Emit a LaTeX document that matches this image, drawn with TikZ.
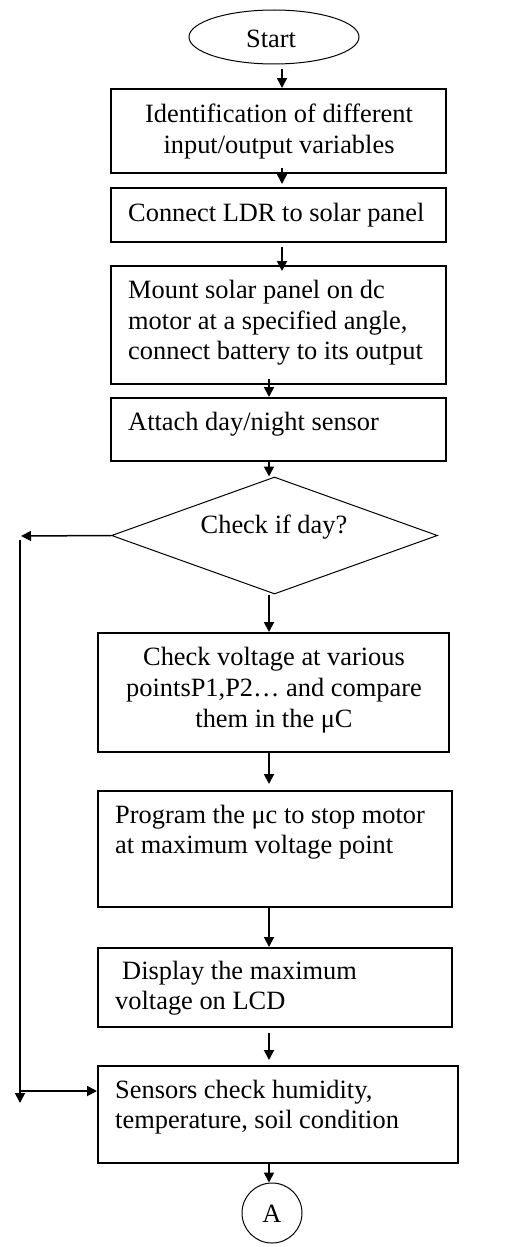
\documentclass[tikz,border=0pt]{standalone}
\usepackage{fontspec}
\setmainfont{Liberation Serif}
\usetikzlibrary{shapes.geometric,arrows.meta}
\begin{document}
\begin{tikzpicture}[x=1pt,y=-1pt,
  box/.style={draw,line width=2pt,rectangle,inner sep=0pt},
  txt/.style={inner sep=0pt,font=\fontsize{26.4}{30.5}\selectfont},
  arr/.style={line width=1.8pt,-{Triangle[length=10pt,width=10pt]}}]
\useasboundingbox (0,0) rectangle (506,1247);
% shapes
\node[draw,ellipse,line width=1pt,minimum width=170pt,minimum height=54pt,inner sep=0pt] (start) at (274,37) {};
\node[box,minimum width=335pt,minimum height=84pt] (b1) at (278.5,131) {};
\node[box,minimum width=335pt,minimum height=54pt] (b2) at (278.5,215) {};
\node[box,minimum width=335pt,minimum height=118pt] (b3) at (278.5,325) {};
\node[box,minimum width=335pt,minimum height=63pt] (b4) at (278.5,429.5) {};
\node[draw,diamond,line width=1pt,minimum width=326pt,minimum height=117pt,inner sep=0pt] (dia) at (274.5,535.5) {};
\node[box,minimum width=351pt,minimum height=119pt] (b5) at (273.5,692.5) {};
\node[box,minimum width=354pt,minimum height=116pt] (b6) at (275,849) {};
\node[box,minimum width=354pt,minimum height=79pt] (b7) at (275,987.5) {};
\node[box,minimum width=360pt,minimum height=97pt] (b8) at (278,1114.5) {};
\node[draw,circle,line width=1pt,minimum size=60pt,inner sep=0pt] (A) at (272,1213) {};
% texts
\node[txt,anchor=base] (tstart) at (271,48) {Start};
\node[txt,anchor=base] (t1a) at (279,122) {Identification of different};
\node[txt,anchor=base] (t1b) at (279,153) {input/output variables};
\node[txt,anchor=base west] (t2) at (128,221) {Connect LDR to solar panel};
\node[txt,anchor=base west] (t3a) at (128,298) {Mount solar panel on dc};
\node[txt,anchor=base west] (t3b) at (128,329) {motor at a specified angle,};
\node[txt,anchor=base west] (t3c) at (128,359) {connect battery to its output};
\node[txt,anchor=base west] (t4) at (128,430) {Attach day/night sensor};
\node[txt,anchor=base] (td) at (274,533) {Check if day?};
\node[txt,anchor=base] (t5a) at (274,665) {Check voltage at various};
\node[txt,anchor=base] (t5b) at (274,696) {pointsP1,P2… and compare};
\node[txt,anchor=base] (t5c) at (274,727) {them in the μC};
\node[txt,anchor=base west] (t6a) at (115,823) {Program the μc to stop motor};
\node[txt,anchor=base west] (t6b) at (115,853) {at maximum voltage point};
\node[txt,anchor=base west] (t7a) at (122,979) {Display the maximum};
\node[txt,anchor=base west] (t7b) at (115,1009) {voltage on LCD};
\node[txt,anchor=base west] (t8a) at (115,1098) {Sensors check humidity,};
\node[txt,anchor=base west] (t8b) at (115,1128) {temperature, soil condition};
\node[txt,anchor=base] (tA) at (272,1222) {A};
% free ends
\coordinate (L1) at (21,536);
\coordinate (L2) at (20,540);
\coordinate (L3) at (20,1103);
\coordinate (L4) at (20,1091);
% connectors
\draw[arr] ([xshift=8pt,yshift=-5pt]start.south) -- ([xshift=3.5pt]b1.north);
\draw[arr] ([xshift=3.5pt,yshift=6pt]b1.south) -- ([xshift=3.5pt,yshift=3pt]b2.north);
\draw[arr] ([xshift=3.5pt,yshift=-4pt]b2.south) -- ([xshift=3.5pt,yshift=-6pt]b3.north);
\draw[arr] ([xshift=-9.5pt,yshift=6pt]b3.south) -- ([xshift=-9.5pt]b4.north);
\draw[arr] ([xshift=-9.5pt]b4.south) -- ([xshift=-5.5pt]dia.north);
\draw[arr] ([xshift=-5.5pt]dia.south) -- ([xshift=-4.5pt]b5.north);
\draw[arr] ([xshift=-4.5pt]b5.south) -- ([xshift=-6pt,yshift=6pt]b6.north);
\draw[arr] ([xshift=-6pt]b6.south) -- ([xshift=-6pt]b7.north);
\draw[arr] ([xshift=-6pt,yshift=-5pt]b7.south) -- ([xshift=-9pt,yshift=5pt]b8.north);
\draw[arr] ([xshift=-9pt]b8.south) -- ([xshift=-3pt]A.north);
\draw[arr,line width=1.5pt] (dia.west) -- (L1);
\draw[arr] (L2) -- (L3);
\draw[arr] (L4) -- (L4 -| b8.west);
\end{tikzpicture}
\end{document}
